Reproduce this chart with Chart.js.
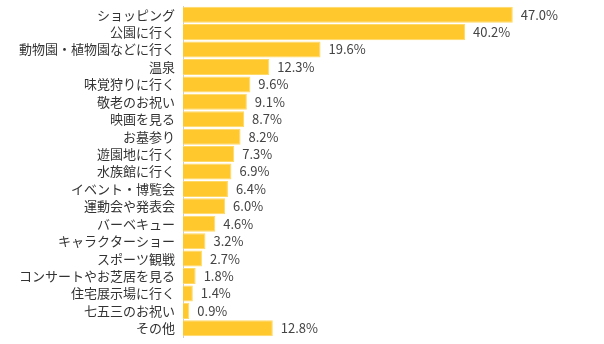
<!DOCTYPE html>
<html>
<head>
<meta charset="utf-8">
<script src="https://cdn.jsdelivr.net/npm/chart.js@4/dist/chart.umd.min.js"></script>
<style>
  html, body { margin: 0; padding: 0; background: #fff; }
  #wrap { width: 604px; height: 344px; position: relative; }
</style>
</head>
<body>
<div id="wrap"><canvas id="chart"></canvas></div>
<script>
const labels = [
  "ショッピング", "公園に行く", "動物園・植物園などに行く", "温泉", "味覚狩りに行く",
  "敬老のお祝い", "映画を見る", "お墓参り", "遊園地に行く", "水族館に行く",
  "イベント・博覧会", "運動会や発表会", "バーベキュー", "キャラクターショー", "スポーツ観戦",
  "コンサートやお芝居を見る", "住宅展示場に行く", "七五三のお祝い", "その他"
];
const values = [47.0, 40.2, 19.6, 12.3, 9.6, 9.1, 8.7, 8.2, 7.3, 6.9, 6.4, 6.0, 4.6, 3.2, 2.7, 1.8, 1.4, 0.9, 12.8];

const FONT = "'Noto Sans CJK JP', 'Noto Sans', sans-serif";
const BAR = "#FFC82C";

// percentage text at the end of each bar
const valueLabels = {
  id: "valueLabels",
  afterDatasetsDraw(chart) {
    const ctx = chart.ctx;
    const meta = chart.getDatasetMeta(0);
    ctx.save();
    ctx.font = "13px " + FONT;
    ctx.fillStyle = "#444";
    ctx.textAlign = "left";
    ctx.textBaseline = "middle";
    meta.data.forEach((bar, i) => {
      ctx.fillText(values[i].toFixed(1) + "%", bar.x + 8, bar.y);
    });
    ctx.restore();
  },
};

new Chart(document.getElementById("chart"), {
  type: "bar",
  data: {
    labels,
    datasets: [{
      data: values,
      backgroundColor: BAR,
      borderColor: "#FFD966",
      borderWidth: 1,
      borderSkipped: "left",
      barPercentage: 0.92,
      categoryPercentage: 1,
    }],
  },
  options: {
    indexAxis: "y",
    responsive: true,
    maintainAspectRatio: false,
    animation: false,
    layout: { padding: { top: 6, right: 0, bottom: 7, left: 0 } },
    plugins: { legend: { display: false }, tooltip: { enabled: false } },
    scales: {
      x: { display: false, min: 0, max: 60 },
      y: {
        grid: { display: false },
        border: { display: true, color: "#cccccc", width: 1 },
        ticks: { color: "#333", padding: 0, autoSkip: false, font: { family: FONT, size: 13 } },
        afterFit: (s) => {
          s.width = 183;
          s.paddingTop = 0;
          s.paddingBottom = 0;
        },
      },
    },
  },
  plugins: [valueLabels],
});
</script>
</body>
</html>
